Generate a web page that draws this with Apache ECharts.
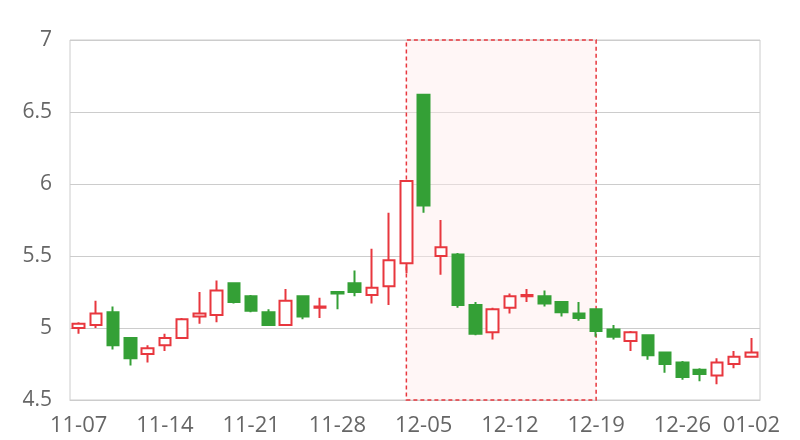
<!DOCTYPE html>
<html><head><meta charset="utf-8">
<script src="https://cdn.jsdelivr.net/npm/echarts@6/dist/echarts.min.js"></script>
<style>html,body{margin:0;padding:0;background:#fff}#c{width:800px;height:440px}</style>
</head><body><div id="c"></div>
<script>
const dates = ['11-07','11-08','11-11','11-12','11-13','11-14','11-15','11-18','11-19','11-20','11-21','11-22','11-25','11-26','11-27','11-28','11-29',
'12-02','12-03','12-04','12-05','12-06','12-09','12-10','12-11','12-12','12-13','12-16','12-17','12-18','12-19','12-20','12-23','12-24','12-25','12-26','12-27','12-30','12-31','01-02'];
const openV  = [5.00,5.02,5.11,4.93,4.82,4.88,4.93,5.08,5.09,5.31,5.22,5.11,5.02,5.22,5.14,5.25,5.31,5.23,5.29,5.45,6.62,5.50,5.51,5.16,4.97,5.14,5.22,5.22,5.18,5.10,5.13,4.99,4.91,4.95,4.83,4.76,4.71,4.67,4.75,4.80];
const closeV = [5.03,5.10,4.88,4.79,4.86,4.93,5.06,5.10,5.26,5.18,5.12,5.02,5.19,5.08,5.15,5.24,5.25,5.28,5.47,6.02,5.85,5.56,5.16,4.96,5.13,5.22,5.23,5.17,5.11,5.07,4.98,4.94,4.97,4.81,4.75,4.66,4.68,4.76,4.80,4.83];
const lowV   = [4.96,5.00,4.85,4.74,4.76,4.84,4.93,5.03,5.04,5.17,5.11,5.02,5.02,5.06,5.07,5.13,5.22,5.17,5.16,5.38,5.80,5.37,5.14,4.95,4.92,5.10,5.18,5.15,5.08,5.05,4.94,4.92,4.84,4.78,4.69,4.64,4.63,4.61,4.72,4.80];
const highV  = [5.04,5.19,5.15,4.93,4.88,4.96,5.07,5.25,5.33,5.31,5.23,5.13,5.27,5.22,5.21,5.25,5.40,5.55,5.80,6.02,6.62,5.75,5.52,5.18,5.14,5.24,5.27,5.26,5.18,5.18,5.13,5.02,4.98,4.95,4.83,4.77,4.72,4.79,4.84,4.93];
const areaStart = '12-04';
const areaEnd = '12-19';
const yTicks = {min: 4.5, max: 7, interval: 0.5};

const ohlc = dates.map((d, i) => [openV[i], closeV[i], lowV[i], highV[i]]);
const RED = '#e8373e', GREEN = '#34a036';
const chart = echarts.init(document.getElementById('c'), null, {renderer: 'canvas'});
chart.setOption({
  animation: false,
  grid: {left: 70, right: 40, top: 40, bottom: 40, show: true, borderColor: '#ccc', borderWidth: 1, backgroundColor: 'transparent'},
  xAxis: {
    type: 'category', data: dates, boundaryGap: true,
    axisLine: {show: true, lineStyle: {color: '#ccc'}},
    axisTick: {show: false},
    axisLabel: {
      interval: (idx) => idx % 5 === 0 || idx === dates.length - 1,
      color: '#666', fontSize: 22, margin: 15, fontFamily: 'Open Sans'
    },
    splitLine: {show: false}
  },
  yAxis: {
    type: 'value', min: yTicks.min, max: yTicks.max, interval: yTicks.interval,
    axisLine: {show: false}, axisTick: {show: false},
    axisLabel: {color: '#666', fontSize: 21, margin: 18, fontFamily: 'Open Sans'},
    splitLine: {lineStyle: {color: '#ccc'}}
  },
  series: [{
    type: 'candlestick',
    data: ohlc,
    barWidth: 12,
    itemStyle: {color: '#fff', color0: GREEN, borderColor: RED, borderColor0: GREEN, borderWidth: 2},
    markArea: {
      silent: true,
      itemStyle: {color: 'rgba(255,235,235,0.45)', borderColor: RED, borderWidth: 1.5, borderType: [4, 3]},
      data: [[{xAxis: areaStart}, {xAxis: areaEnd}]]
    }
  }]
});
</script></body></html>
